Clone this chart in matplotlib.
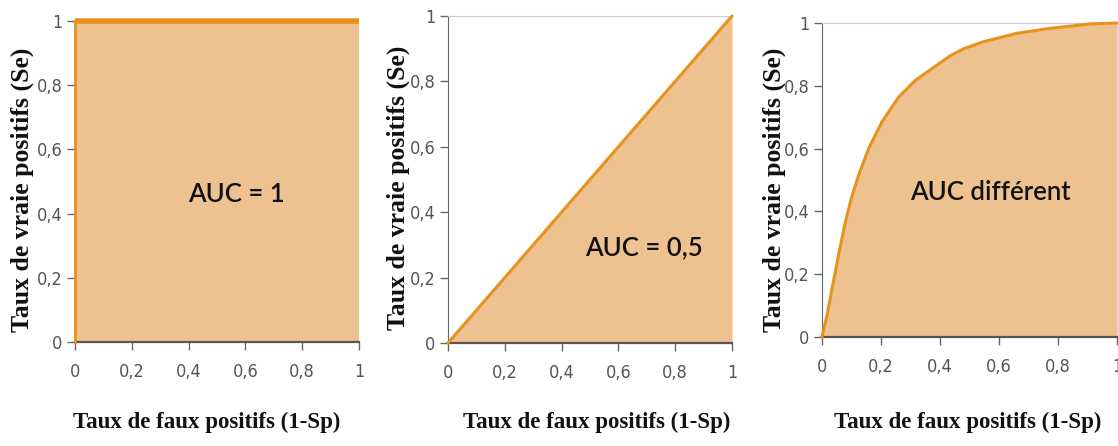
import matplotlib
matplotlib.use("Agg")
import matplotlib.pyplot as plt
from matplotlib import font_manager as fm

# ---- data ----
tick_values = [0, 0.2, 0.4, 0.6, 0.8, 1]
tick_labels = ["0", "0,2", "0,4", "0,6", "0,8", "1"]

perfect_fpr = [0, 0, 1]
perfect_tpr = [0, 1, 1]

random_fpr = [0, 1]
random_tpr = [0, 1]

curve_fpr = [0, 0.017, 0.034, 0.056, 0.079, 0.102, 0.124, 0.158, 0.203, 0.26,
             0.316, 0.373, 0.434, 0.48, 0.546, 0.66, 0.773, 0.908, 1.0]
curve_tpr = [0, 0.069, 0.154, 0.26, 0.366, 0.45, 0.515, 0.60, 0.685, 0.764,
             0.817, 0.855, 0.895, 0.918, 0.94, 0.967, 0.983, 0.997, 1.0]

auc_texts = ["AUC = 1", "AUC = 0,5", "AUC différent"]
auc_pos = [(0.57, 0.46), (0.69, 0.29), (0.57, 0.46)]

xlabel = "Taux de faux positifs (1-Sp)"
ylabel = "Taux de vraie positifs (Se)"

FILL = "#EDC290"
LINE = "#E8921C"

names = {f.name for f in fm.fontManager.ttflist}
if 'Liberation Sans Narrow' in names:
    tick_kw = dict(family='Liberation Sans Narrow')
else:
    tick_kw = dict(family='DejaVu Sans', stretch='condensed')

W, H = 1118, 446
fig = plt.figure(figsize=(W / 100, H / 100), dpi=100)

def px_axes(x0, x1, ytop, ybot):
    return fig.add_axes([x0 / W, 1 - ybot / H, (x1 - x0) / W, (ybot - ytop) / H])

axes = [
    px_axes(75, 359, 21, 342),
    px_axes(448, 732, 16, 343),
    px_axes(822, 1117, 23, 337),
]
datas = [(perfect_fpr, perfect_tpr), (random_fpr, random_tpr), (curve_fpr, curve_tpr)]

for i, (ax, (xs, ys)) in enumerate(zip(axes, datas)):
    ax.fill_between(xs, ys, 0, color=FILL, lw=0, zorder=1)
    if i == 0:
        ax.plot(xs[:2], ys[:2], color=LINE, lw=2, zorder=3, clip_on=False)
        ax.plot(xs[1:], ys[1:], color=LINE, lw=4, zorder=3, clip_on=False,
                solid_capstyle='butt')
    else:
        ax.plot(xs, ys, color=LINE, lw=2.2, zorder=3, clip_on=False,
                solid_capstyle='round')
    ax.set_xlim(0, 1)
    ax.set_ylim(0, 1)
    ax.set_xticks(tick_values)
    ax.set_xticklabels(tick_labels, fontsize=13, color="#555555", **tick_kw)
    ax.set_yticks(tick_values)
    ax.set_yticklabels(tick_labels, fontsize=13, color="#555555", **tick_kw)
    ax.tick_params(direction='out', length=6, width=1, color="#666666")
    ax.tick_params(axis='x', pad=9)
    ax.tick_params(axis='y', pad=3)
    ax.spines['right'].set_visible(False)
    ax.spines['top'].set_color("#cccccc")
    ax.spines['top'].set_visible(i != 0)
    ax.spines['left'].set_color("#666666")
    ax.spines['bottom'].set_color("#555555")
    ax.spines['bottom'].set_linewidth(1.6)
    ax.set_facecolor("white")
    tx, ty = auc_pos[i]
    ax.text(tx, ty, auc_texts[i], ha='center', va='center', fontsize=18.5,
            family=['Lato', 'DejaVu Sans'], weight='semibold', color="#111111", zorder=5)

# axis titles placed in pixel coordinates
xl_centers = [(207, 422), (597, 422), (968, 422)]
yl_centers = [(22, 190), (398, 188), (774, 190)]
serif = ['Liberation Serif', 'DejaVu Serif']
for (cx, cy) in xl_centers:
    fig.text(cx / W, 1 - cy / H, xlabel, ha='center', va='center', fontsize=16.5,
             family=serif, weight='bold', color="#111111")
for (cx, cy) in yl_centers:
    fig.text(cx / W, 1 - cy / H, ylabel, ha='center', va='center', fontsize=18.5,
             family=serif, weight='bold', color="#111111", rotation=90)

fig.savefig("out.png", dpi=100, facecolor="white")
